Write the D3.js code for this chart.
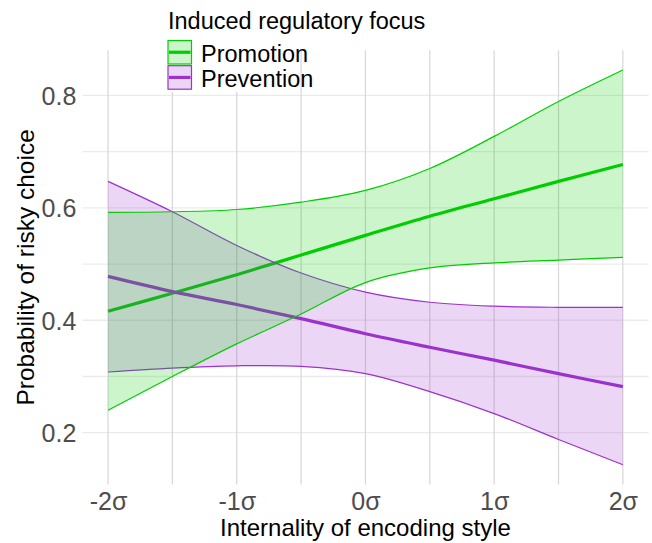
<!DOCTYPE html>
<html>
<head>
<meta charset="utf-8">
<script src="https://cdn.jsdelivr.net/npm/d3@7"></script>
<style>
  html, body { margin: 0; padding: 0; background: #fff; }
  svg { display: block; font-family: "Liberation Sans", Arial, sans-serif; }
</style>
</head>
<body>
<svg id="chart" width="652" height="543"></svg>
<script>
// ---- data ----
const xValues = [-2, -1.5, -1, -0.5, 0, 0.5, 1, 1.5, 2];
const promotionFit   = [0.416, 0.448, 0.481, 0.516, 0.551, 0.585, 0.616, 0.647, 0.677];
const promotionUpper = [0.592, 0.593, 0.597, 0.610, 0.631, 0.670, 0.727, 0.789, 0.845];
const promotionLower = [0.240, 0.300, 0.358, 0.411, 0.467, 0.493, 0.502, 0.507, 0.512];
const preventionFit   = [0.478, 0.451, 0.428, 0.403, 0.376, 0.352, 0.329, 0.305, 0.282];
const preventionUpper = [0.647, 0.593, 0.533, 0.484, 0.450, 0.432, 0.425, 0.423, 0.423];
const preventionLower = [0.308, 0.315, 0.319, 0.318, 0.305, 0.273, 0.234, 0.188, 0.143];
const seriesNames = ["Promotion", "Prevention"];
const xTickValues = [-2, -1, 0, 1, 2];
const xTickLabels = ["-2σ", "-1σ", "0σ", "1σ", "2σ"];
const yTickValues = [0.2, 0.4, 0.6, 0.8];
const yTickLabels = ["0.2", "0.4", "0.6", "0.8"];
const xMinorValues = [-1.5, -0.5, 0.5, 1.5];
const yMinorValues = [0.3, 0.5, 0.7];
const legendTitle = "Induced regulatory focus";
const xTitle = "Internality of encoding style";
const yTitle = "Probability of risky choice";

// ---- styles ----
const colors = { Promotion: "#00CD00", Prevention: "#9A32CD" };
const fillAlpha = 0.2;
const panel = { left: 82.3, right: 648.6, top: 50.3, bottom: 484.5 };
const FONT = "Liberation Sans, Arial, sans-serif";

const series = seriesNames.map(name => {
  const fit = name === "Promotion" ? promotionFit : preventionFit;
  const lo = name === "Promotion" ? promotionLower : preventionLower;
  const hi = name === "Promotion" ? promotionUpper : preventionUpper;
  return { name, rows: xValues.map((x, i) => ({ x, fit: fit[i], lo: lo[i], hi: hi[i] })) };
});

const xExt = d3.extent(xValues);
const xPad = (xExt[1] - xExt[0]) * 0.05;
const allY = [].concat(promotionUpper, promotionLower, preventionUpper, preventionLower);
const yExt = d3.extent(allY);
const yPad = (yExt[1] - yExt[0]) * 0.05;

const x = d3.scaleLinear().domain([xExt[0] - xPad, xExt[1] + xPad]).range([panel.left, panel.right]);
const y = d3.scaleLinear().domain([yExt[0] - yPad, yExt[1] + yPad]).range([panel.bottom, panel.top]);

const svg = d3.select("#chart");

// grid
const grid = svg.append("g");
grid.selectAll("line.hgrid").data(yTickValues.concat(yMinorValues)).join("line")
  .attr("x1", panel.left).attr("x2", panel.right)
  .attr("y1", d => y(d)).attr("y2", d => y(d))
  .attr("stroke", "#ebebeb").attr("stroke-width", 1.3);
grid.selectAll("line.vgrid").data(xTickValues.concat(xMinorValues)).join("line")
  .attr("y1", panel.top).attr("y2", panel.bottom)
  .attr("x1", d => x(d)).attr("x2", d => x(d))
  .attr("stroke", "#d9d9d9").attr("stroke-width", 1.3);

const curve = d3.curveCatmullRom.alpha(0.5);
const lineFit = d3.line().x(d => x(d.x)).y(d => y(d.fit)).curve(curve);
const lineLo = d3.line().x(d => x(d.x)).y(d => y(d.lo)).curve(curve);
const lineHi = d3.line().x(d => x(d.x)).y(d => y(d.hi)).curve(curve);
const area = d3.area().x(d => x(d.x)).y0(d => y(d.lo)).y1(d => y(d.hi)).curve(curve);

// fitted lines (under ribbons)
svg.append("g").selectAll("path").data(series).join("path")
  .attr("d", d => lineFit(d.rows))
  .attr("fill", "none").attr("stroke", d => colors[d.name]).attr("stroke-width", 3.2);

// ribbons: Prevention first, Promotion on top
const ribbonOrder = [series[1], series[0]];
ribbonOrder.forEach(s => {
  const g = svg.append("g");
  g.append("path").attr("d", area(s.rows))
    .attr("fill", colors[s.name]).attr("fill-opacity", fillAlpha).attr("stroke", "none");
  g.append("path").attr("d", lineLo(s.rows))
    .attr("fill", "none").attr("stroke", colors[s.name]).attr("stroke-width", 1.2);
  g.append("path").attr("d", lineHi(s.rows))
    .attr("fill", "none").attr("stroke", colors[s.name]).attr("stroke-width", 1.2);
});

// axes (text only)
const xAxis = d3.axisBottom(x).tickValues(xTickValues).tickFormat((d, i) => xTickLabels[i]).tickSize(0).tickPadding(0);
const gx = svg.append("g").attr("transform", `translate(0,${panel.bottom})`).call(xAxis);
gx.select(".domain").remove();
gx.selectAll("text").attr("dy", null).attr("y", 25).attr("fill", "#4d4d4d")
  .style("font-size", "25px").style("font-family", FONT);

const yAxis = d3.axisLeft(y).tickValues(yTickValues).tickFormat((d, i) => yTickLabels[i]).tickSize(0).tickPadding(6);
const gy = svg.append("g").attr("transform", `translate(${panel.left},0)`).call(yAxis);
gy.select(".domain").remove();
gy.selectAll("text").attr("fill", "#4d4d4d").attr("dy", "0.36em")
  .style("font-size", "25px").style("font-family", FONT);

// axis titles
svg.append("text").attr("x", (panel.left + panel.right) / 2).attr("y", 536)
  .attr("text-anchor", "middle").attr("font-size", 24).attr("fill", "#000").text(xTitle);
svg.append("text").attr("transform", `translate(34,${(panel.top + panel.bottom) / 2}) rotate(-90)`)
  .attr("text-anchor", "middle").attr("font-size", 24.5).attr("fill", "#000").text(yTitle);

// legend
const lg = svg.append("g");
lg.append("rect").attr("x", 164).attr("y", 38).attr("width", 136).attr("height", 54).attr("fill", "#fff");
lg.append("text").attr("x", 168).attr("y", 29).attr("font-size", 23.5).attr("fill", "#000").text(legendTitle);
series.forEach((s, i) => {
  const ky = 40.5 + i * 25.2;
  lg.append("rect").attr("x", 168).attr("y", ky).attr("width", 23.5).attr("height", 23.5)
    .attr("fill", colors[s.name]).attr("fill-opacity", fillAlpha)
    .attr("stroke", colors[s.name]).attr("stroke-width", 1.2);
  lg.append("line").attr("x1", 169).attr("x2", 190.5).attr("y1", ky + 11.75).attr("y2", ky + 11.75)
    .attr("stroke", colors[s.name]).attr("stroke-width", 3.2);
  lg.append("text").attr("x", 201).attr("y", ky + 21.2).attr("font-size", 23.5).attr("fill", "#000").text(s.name);
});
</script>
</body>
</html>
